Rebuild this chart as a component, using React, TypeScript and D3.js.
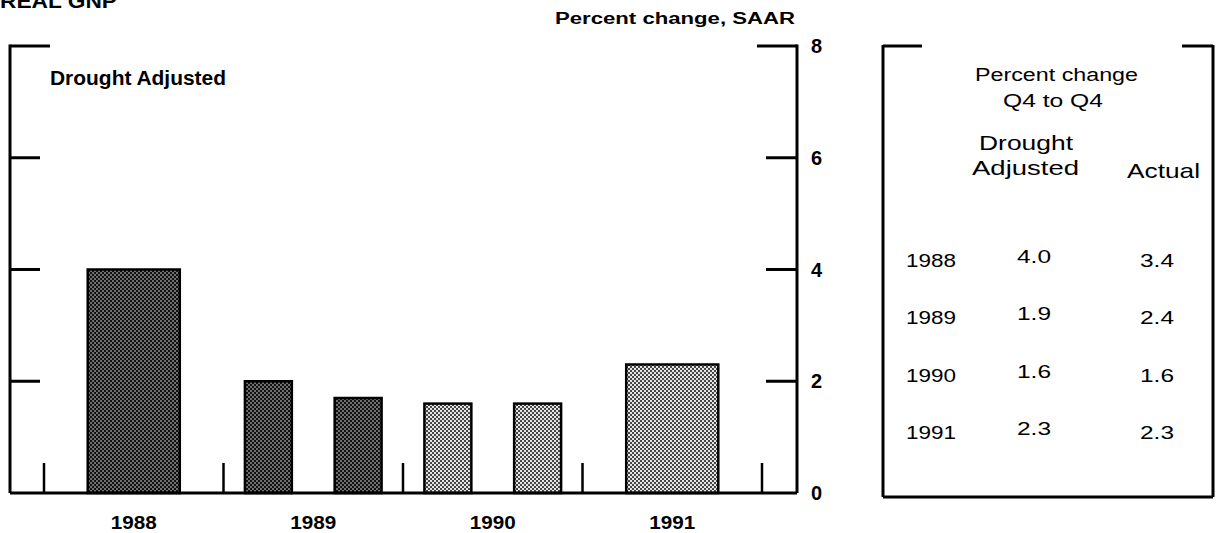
import React from "react";
import * as d3 from "d3";

// ---- data ----
const years = ["1988", "1989", "1990", "1991"];
const halves = ["H1", "H2"];
// bars: year, half (null = whole-year bar), value, forecast flag
const barYears = ["1988", "1989", "1989", "1990", "1990", "1991"];
const barHalves = [null, "H1", "H2", "H1", "H2", null];
const barValues = [4.0, 2.0, 1.7, 1.6, 1.6, 2.3];
const barForecast = [false, false, false, true, true, true];
const yTicks = [0, 2, 4, 6, 8];

const tableYears = ["1988", "1989", "1990", "1991"];
const tableDrought = ["4.0", "1.9", "1.6", "2.3"];
const tableActual = ["3.4", "2.4", "1.6", "2.3"];

const W = 1222;
const H = 533;
const FONT = "'Liberation Sans', Arial, Helvetica, sans-serif";
const SG = "spacingAndGlyphs";

export default function App() {
  const y = d3.scaleLinear().domain([0, 8]).range([493, 46]);
  const x = d3.scaleBand<string>().domain(years).range([44, 762]).padding(0);
  const xh = d3.scaleBand<string>().domain(halves).range([0, x.bandwidth()]).padding(0);
  const bw = x.bandwidth();

  const bars = barValues.map((v, i) => {
    const yr = barYears[i];
    const h = barHalves[i];
    let cx: number, w: number;
    if (h == null) {
      cx = (x(yr) as number) + bw / 2;
      w = bw * 0.513;
    } else {
      cx = (x(yr) as number) + (xh(h) as number) + xh.bandwidth() / 2;
      w = xh.bandwidth() * 0.523;
    }
    return { x: cx - w / 2, w, y: y(v), h: y(0) - y(v), forecast: barForecast[i] };
  });

  const rowY = d3.scalePoint<string>().domain(tableYears).range([267, 439]);
  const left = 10;
  const right = 797;
  const base = y(0);
  const top = y(8);

  return (
    <svg
      width={W}
      height={H}
      style={{ position: "absolute", left: 0, top: 0, background: "#fff" }}
      fontFamily={FONT}
    >
      <defs>
        <pattern id="dark" width="4" height="4" patternUnits="userSpaceOnUse">
          <rect width="4" height="4" fill="#111" />
          <circle cx="1" cy="1" r="0.75" fill="#fff" />
          <circle cx="3" cy="3" r="0.75" fill="#fff" />
        </pattern>
        <pattern id="light" width="4" height="4" patternUnits="userSpaceOnUse">
          <rect width="4" height="4" fill="#e4e4e4" />
          <circle cx="1" cy="1" r="1" fill="#111" />
          <circle cx="3" cy="3" r="1" fill="#111" />
        </pattern>
      </defs>

      {/* title */}
      <text x={0} y={8} fontSize={20} fontWeight="bold" fill="#000" textLength={117} lengthAdjust={SG}>
        REAL GNP
      </text>
      <text x={555} y={24} fontSize={16} fontWeight="bold" fill="#000" textLength={240} lengthAdjust={SG}>
        Percent change, SAAR
      </text>

      {/* bars */}
      {bars.map((b, i) => (
        <rect
          key={i}
          x={b.x}
          y={b.y}
          width={b.w}
          height={b.h}
          fill={b.forecast ? "url(#light)" : "url(#dark)"}
          stroke="#000"
          strokeWidth={2.5}
        />
      ))}

      {/* frame */}
      <g stroke="#000" strokeWidth={3} fill="none">
        <line x1={left} x2={left} y1={top - 1.5} y2={base} />
        <line x1={left} x2={left + 40} y1={top} y2={top} />
        <line x1={right} x2={right} y1={top - 1.5} y2={base} />
        <line x1={right - 40} x2={right} y1={top} y2={top} />
        <line x1={left} x2={right} y1={base} y2={base} />
        {yTicks
          .filter((t) => t > 0 && t < 8)
          .map((t) => (
            <g key={t}>
              <line x1={left} x2={left + 30} y1={y(t)} y2={y(t)} />
              <line x1={right - 31} x2={right} y1={y(t)} y2={y(t)} />
            </g>
          ))}
        {[...years.map((yr) => x(yr) as number), 762].map((xx, i) => (
          <line key={i} x1={xx} x2={xx} y1={base} y2={base - 30} strokeWidth={2.5} />
        ))}
      </g>

      {/* y labels */}
      {yTicks.map((t) => (
        <text key={t} x={811} y={y(t)} dy="0.36em" fontSize={20} fontWeight="bold" fill="#000">
          {t}
        </text>
      ))}

      {/* x labels */}
      {years.map((yr) => (
        <text
          key={yr}
          x={(x(yr) as number) + bw / 2 - 23}
          y={529}
          fontSize={19}
          fontWeight="bold"
          fill="#000"
          textLength={46}
          lengthAdjust={SG}
        >
          {yr}
        </text>
      ))}

      <text x={50} y={85} fontSize={20} fontWeight="bold" fill="#000" textLength={176} lengthAdjust={SG}>
        Drought Adjusted
      </text>

      {/* table panel */}
      <g stroke="#000" strokeWidth={3} fill="none">
        <line x1={883} x2={883} y1={45} y2={497} />
        <line x1={883} x2={922} y1={46} y2={46} />
        <line x1={1213} x2={1213} y1={45} y2={497} />
        <line x1={1182} x2={1213} y1={46} y2={46} />
        <line x1={883} x2={1213} y1={497} y2={497} />
      </g>
      <g fontSize={18} fill="#000">
        <text x={975} y={81} textLength={163} lengthAdjust={SG}>Percent change</text>
        <text x={1003} y={107} textLength={100} lengthAdjust={SG}>Q4 to Q4</text>
        <text x={979} y={150} fontSize={21} textLength={94} lengthAdjust={SG}>Drought</text>
        <text x={972} y={175} fontSize={21} textLength={107} lengthAdjust={SG}>Adjusted</text>
        <text x={1127} y={178} fontSize={21} textLength={73} lengthAdjust={SG}>Actual</text>
        {tableYears.map((yr, i) => (
          <g key={yr} fontSize={19}>
            <text x={906} y={rowY(yr)} textLength={50} lengthAdjust={SG}>{yr}</text>
            <text x={1017} y={(rowY(yr) as number) - 4} textLength={34} lengthAdjust={SG}>
              {tableDrought[i]}
            </text>
            <text x={1140} y={rowY(yr)} textLength={34} lengthAdjust={SG}>{tableActual[i]}</text>
          </g>
        ))}
      </g>
    </svg>
  );
}
